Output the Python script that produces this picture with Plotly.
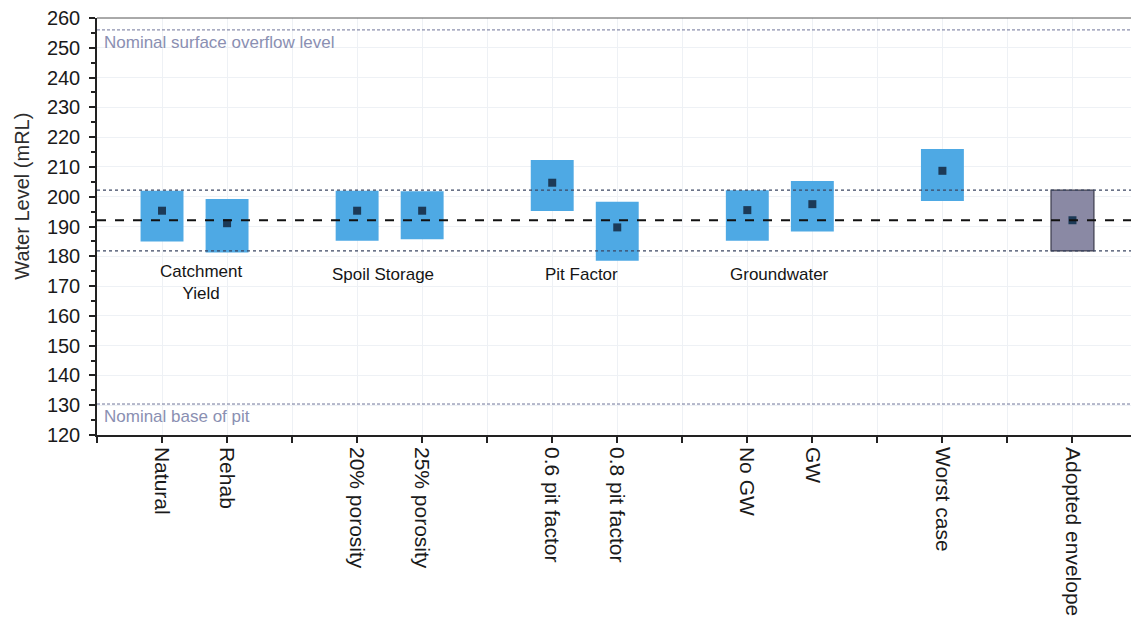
import plotly.graph_objects as go

# Scenario slots along the x axis (blank slots separate the groups)
slot_labels = ["", "Natural", "Rehab", "", "20% porosity", "25% porosity", "",
               "0.6 pit factor", "0.8 pit factor", "", "No GW", "GW", "",
               "Worst case", "", "Adopted envelope"]

scenarios = ["Natural", "Rehab", "20% porosity", "25% porosity",
             "0.6 pit factor", "0.8 pit factor", "No GW", "GW", "Worst case"]
scenario_slot = [1, 2, 4, 5, 7, 8, 10, 11, 13]
level_low = [185.0, 181.3, 185.2, 185.7, 195.2, 178.5, 185.2, 188.3, 198.6]
level_high = [202.0, 199.2, 202.0, 201.8, 212.3, 198.3, 202.2, 205.3, 216.0]
level_mid = [195.3, 191.1, 195.3, 195.3, 204.7, 189.7, 195.5, 197.5, 208.7]

envelope_slot = 15
envelope_low = 181.8
envelope_high = 202.2
envelope_mid = 192.1

overflow_level = 256.0
pit_base_level = 130.4

groups = ["Catchment<br>Yield", "Spoil Storage", "Pit Factor", "Groundwater"]
group_x = [1.6, 4.4, 7.45, 10.5]
group_y = [171.2, 174.0, 174.0, 174.0]

font = "Liberation Sans, Arial, sans-serif"
blue = "#4ea9e4"

fig = go.Figure()

# Scenario ranges as floating bars
fig.add_trace(go.Bar(
    x=scenario_slot, y=[h - l for h, l in zip(level_high, level_low)],
    base=level_low, width=0.66,
    marker=dict(color=blue, line=dict(width=0)),
    hoverinfo="skip", showlegend=False))

# Adopted envelope bar
fig.add_trace(go.Bar(
    x=[envelope_slot], y=[envelope_high - envelope_low], base=[envelope_low],
    width=0.66,
    marker=dict(color="#8a89a4", line=dict(color="#3c3c4c", width=1.2)),
    hoverinfo="skip", showlegend=False))

# Central estimates
fig.add_trace(go.Scatter(
    x=scenario_slot + [envelope_slot], y=level_mid + [envelope_mid],
    mode="markers",
    marker=dict(symbol="square", size=8, color="#1c3a57"),
    hoverinfo="skip", showlegend=False))

# Envelope and nominal level reference lines
for yv, dash, width, col in [
    (envelope_high, "dot", 1.2, "#3b4662"),
    (envelope_low, "dot", 1.2, "#3b4662"),
    (envelope_mid, "dash", 2.0, "#111111"),
    (overflow_level, "3px,2px", 1.0, "#6f7499"),
    (pit_base_level, "3px,2px", 1.0, "#6f7499"),
]:
    fig.add_shape(type="line", xref="paper", x0=0, x1=1, yref="y", y0=yv, y1=yv,
                  line=dict(color=col, width=width, dash=dash), layer="above")

# Reference line captions
fig.add_annotation(x=0.08, y=overflow_level - 4.2, xref="x", yref="y",
                   text="Nominal surface overflow level", showarrow=False,
                   xanchor="left", yanchor="middle",
                   font=dict(family=font, size=17, color="#8a8fb2"))
fig.add_annotation(x=0.08, y=pit_base_level - 4.2, xref="x", yref="y",
                   text="Nominal base of pit", showarrow=False,
                   xanchor="left", yanchor="middle",
                   font=dict(family=font, size=17, color="#8a8fb2"))

# Group captions
for txt, gx, gy in zip(groups, group_x, group_y):
    fig.add_annotation(x=gx, y=gy, xref="x", yref="y", text=txt,
                       showarrow=False, xanchor="center", yanchor="middle",
                       font=dict(family=font, size=17, color="#151515"))

# Y axis title, placed as a rotated caption left of the tick labels
fig.add_annotation(x=-75 / 1034, y=200, xref="paper", yref="y",
                   xanchor="center", yanchor="middle",
                   text="Water Level (mRL)", textangle=-90, showarrow=False,
                   font=dict(family=font, size=20, color="#2e2e2e"))

fig.update_layout(
    width=1131, height=617,
    margin=dict(l=97, r=0, t=18, b=182),
    paper_bgcolor="white", plot_bgcolor="white",
    barmode="overlay",
    font=dict(family=font, color="#222222"),
    xaxis=dict(
        range=[0, 15.9],
        tickmode="array",
        tickvals=list(range(0, 16)),
        ticktext=slot_labels,
        tickangle=90,
        ticks="outside", ticklen=6, tickwidth=1.5, tickcolor="#222222",
        tickfont=dict(family=font, size=21, color="#1a1a1a"),
        showgrid=True, gridcolor="#eef1f5", gridwidth=1,
        showline=True, linecolor="#222222", linewidth=1.5,
        zeroline=False,
    ),
    yaxis=dict(
        range=[120, 260],
        tickmode="linear", tick0=120, dtick=10,
        ticks="outside", ticklen=6, tickwidth=1.5, tickcolor="#222222",
        minor=dict(dtick=5, ticks="outside", ticklen=4, tickcolor="#222222",
                   showgrid=False),
        tickfont=dict(family=font, size=20, color="#1a1a1a"),
        ticklabelstandoff=5,
        showgrid=True, gridcolor="#eef1f5", gridwidth=1,
        showline=True, linecolor="#222222", linewidth=1.5,
        zeroline=False,
    ),
)

# Thin frame line along the top of the plot area
fig.add_shape(type="line", xref="paper", yref="paper", x0=0, x1=1, y0=1, y1=1,
              line=dict(color="#555555", width=1))

fig.write_html("out.html")
